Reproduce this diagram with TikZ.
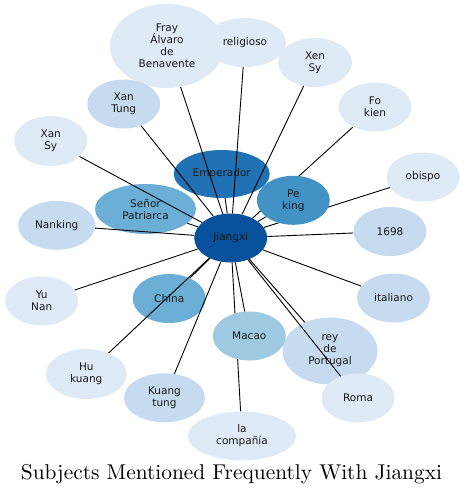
\documentclass[tikz,border=0pt]{standalone}
\usepackage{fontspec}
\setmainfont{Latin Modern Roman}
\newfontfamily\nodefont{DejaVu Sans}
\newfontfamily\titlefont{lmroman10-regular.otf}
\usetikzlibrary{shapes.geometric}
\pgfdeclarelayer{behind}
\pgfsetlayers{behind,main}
\definecolor{ca}{HTML}{DEEBF7}
\definecolor{cb}{HTML}{C6DBEF}
\definecolor{cc}{HTML}{9ECAE1}
\definecolor{cd}{HTML}{6BAED6}
\definecolor{ce}{HTML}{4292C6}
\definecolor{cf}{HTML}{2171B5}
\definecolor{cg}{HTML}{08519C}
\tikzset{
  bub/.style={ellipse, draw=none, inner sep=0pt, align=center,
    font=\nodefont\fontsize{10.5}{12}\selectfont, text=black!90},
  sz/.style 2 args={minimum width=#1pt, minimum height=#2pt},
  link/.style={draw=black, line width=0.9pt}
}
\begin{document}
\begin{tikzpicture}[x=1pt,y=-1pt]
\useasboundingbox (0,0) rectangle (464,497);
% nodes
\node[bub, sz={114}{84}, fill=ca] (fray) at (167,46) {Fray\\Álvaro\\de\\Benavente};
\node[bub, sz={82}{49}, fill=ca] (relig) at (245,42.5) {religioso};
\node[bub, sz={74}{49}, fill=ca] (xensy) at (315,62.5) {Xen\\Sy};
\node[bub, sz={73}{49}, fill=ca] (fokien) at (375,107) {Fo\\kien};
\node[bub, sz={73}{49}, fill=ca] (obispo) at (423,177) {obispo};
\node[bub, sz={73}{49}, fill=cb] (n1698) at (390,231.5) {1698};
\node[bub, sz={73}{49}, fill=cb] (ital) at (393.5,298) {italiano};
\node[bub, sz={95}{67}, fill=cb] (rey) at (330,351) {rey\\de\\Portugal};
\node[bub, sz={73}{49}, fill=ca] (roma) at (358,398) {Roma};
\node[bub, sz={108}{49}, fill=ca] (comp) at (242,436) {la\\compañía};
\node[bub, sz={73}{49}, fill=cc] (macao) at (249.3,336) {Macao};
\node[bub, sz={81}{49}, fill=cb] (ktung) at (164.5,397.8) {Kuang\\tung};
\node[bub, sz={81}{50}, fill=ca] (hkuang) at (86.3,374) {Hu\\kuang};
\node[bub, sz={73}{49}, fill=cd] (china) at (169.2,298.5) {China};
\node[bub, sz={73}{49}, fill=ca] (yunan) at (41.7,301) {Yu\\Nan};
\node[bub, sz={77}{49}, fill=cb] (nank) at (56.7,225.3) {Nanking};
\node[bub, sz={101}{50}, fill=cd] (senor) at (145.5,209) {Señor\\Patriarca};
\node[bub, sz={73}{50}, fill=ca] (xansy) at (50.7,141) {Xan\\Sy};
\node[bub, sz={73}{49}, fill=cb] (xtung) at (123.7,104) {Xan\\Tung};
\node[bub, sz={96}{48}, fill=cf] (emp) at (221.7,174) {Emperador};
\node[bub, sz={73}{49}, fill=ce] (peking) at (293.3,200.3) {Pe\\king};
\node[bub, sz={73}{49}, fill=cg] (j) at (230.7,238) {Jiangxi};
% links drawn over the nodes
\foreach \t in {fray,relig,xensy,n1698,ital,rey,roma,macao,ktung,hkuang,china,yunan,nank,senor,xansy,xtung,emp,peking}
  \draw[link] (j) -- (\t);
% links that pass under Pe king and Macao
\begin{pgfonlayer}{behind}
\foreach \t in {fokien,obispo,comp}
  \draw[link] (j) -- (\t);
\end{pgfonlayer}
% title
\node[font=\titlefont\fontsize{21.4}{25}\selectfont, inner sep=0pt] (title) at (231.5,474) {Subjects Mentioned Frequently With Jiangxi};
\end{tikzpicture}
\end{document}
